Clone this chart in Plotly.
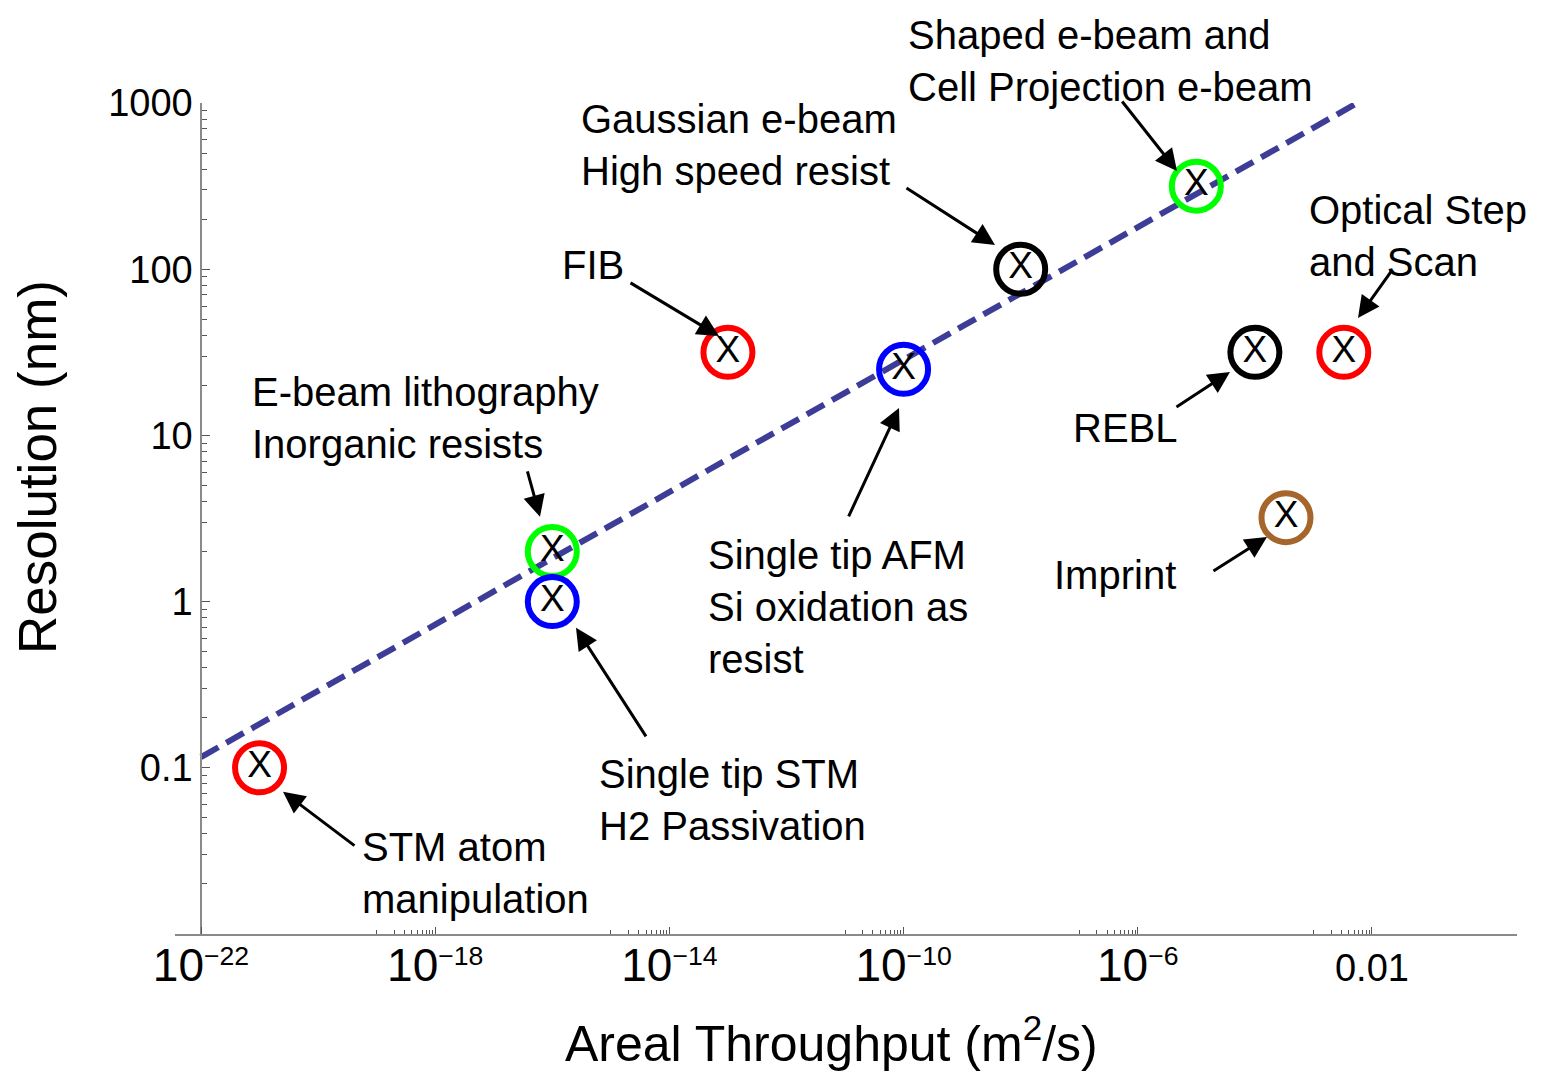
import plotly.graph_objects as go

# ---- data ----
tech_names = ["STM atom manipulation", "E-beam lithography Inorganic resists",
              "Single tip STM H2 Passivation", "FIB", "Single tip AFM",
              "Gaussian e-beam", "Shaped e-beam", "REBL", "Optical Step and Scan", "Imprint"]
throughput = [1e-21, 1e-16, 1e-16, 1e-13, 1e-10, 1e-8, 1e-5, 1e-4, 3.3e-3, 3.4e-4]
resolution = [0.1, 2.0, 1.0, 31.6, 25.0, 100.0, 316.0, 31.6, 31.6, 3.2]
marker_colors = ["#ff0000", "#00ff00", "#0000ff", "#ff0000", "#0000ff",
                 "#000000", "#00ff00", "#000000", "#ff0000", "#a5652b"]

trend_x = [1e-22, 5.6e-3]
trend_y = [0.116, 1000.0]

x_tick_vals = [1e-22, 1e-18, 1e-14, 1e-10, 1e-6, 1e-2]
x_tick_text = ["<span style='font-size:46px'>10</span><sup>\u221222</sup>",
               "<span style='font-size:46px'>10</span><sup>\u221218</sup>",
               "<span style='font-size:46px'>10</span><sup>\u221214</sup>",
               "<span style='font-size:46px'>10</span><sup>\u221210</sup>",
               "<span style='font-size:46px'>10</span><sup>\u22126</sup>",
               "0.01"]
x_minor_decades = [-19, -15, -11, -7, -3]
y_tick_vals = [0.1, 1, 10, 100, 1000]
y_tick_text = ["0.1", "1", "10", "100", "1000"]
y_minor_decades = [-2, -1, 0, 1, 2]

# label text: (text, log10 x of left edge, log10 y of centre)
labels = [
    ("Gaussian e-beam<br>High speed resist", -15.544, 2.747),
    ("FIB", -15.868, 2.026),
    ("Optical Step<br>and Scan", -3.110, 2.200),
    ("E-beam lithography<br>Inorganic resists", -21.163, 1.105),
    ("REBL", -7.141, 1.045),
    ("Single tip AFM<br>Si oxidation as<br>resist", -13.375, -0.032),
    ("Imprint", -7.465, 0.161),
    ("Single tip STM<br>H2 Passivation", -15.236, -1.192),
    ("STM atom<br>manipulation", -19.284, -1.632),
]
# label above the plotting area: (text, log10 x of left edge, paper y of centre)
top_label = ("Shaped e-beam and<br>Cell Projection e-beam", -9.942, 1.05)

# arrows: (tail log x, tail log y, head log x, head log y)
arrows = [
    (-6.287, 3.018, -5.330, 2.591),
    (-9.976, 2.495, -8.439, 2.146),
    (-14.690, 1.923, -13.153, 1.598),
    (-1.641, 2.002, -2.239, 1.707),
    (-5.365, 1.165, -4.425, 1.382),
    (-4.733, 0.179, -3.793, 0.389),
    (-16.432, 0.792, -16.210, 0.510),
    (-14.383, -0.820, -15.595, -0.158),
    (-10.950, 0.504, -10.078, 1.165),
    (-19.353, -1.475, -20.599, -1.144),
]

FONT = "Liberation Sans, Arial, sans-serif"
LABEL_SIZE = 40

fig = go.Figure()
fig.add_trace(go.Scatter(
    x=trend_x, y=trend_y, mode="lines",
    line=dict(color="#3d3d98", width=6, dash="20px,9px"),
    hoverinfo="skip", showlegend=False))
fig.add_trace(go.Scatter(
    x=throughput, y=resolution, mode="markers+text",
    text=["X"] * len(throughput), textposition="middle center",
    textfont=dict(family=FONT, size=37, color="black"),
    marker=dict(symbol="circle-open", size=49, color=marker_colors,
                line=dict(width=6, color=marker_colors)),
    hovertext=tech_names, showlegend=False, cliponaxis=False))

annotations = []
for txt, lx, ly in labels:
    annotations.append(dict(text=txt, x=lx, y=ly, xref="x", yref="y",
                            xanchor="left", yanchor="middle", align="left",
                            showarrow=False,
                            font=dict(family=FONT, size=LABEL_SIZE, color="black")))
annotations.append(dict(text=top_label[0], x=top_label[1], y=top_label[2],
                        xref="x", yref="paper", xanchor="left", yanchor="middle",
                        align="left", showarrow=False, borderpad=0,
                        font=dict(family=FONT, size=LABEL_SIZE, color="black")))
for tx, ty, hx, hy in arrows:
    annotations.append(dict(text="", x=hx, y=hy, ax=tx, ay=ty,
                            xref="x", yref="y", axref="x", ayref="y",
                            showarrow=True, arrowhead=2, arrowsize=1.45,
                            arrowwidth=3, arrowcolor="black", standoff=0,
                            startstandoff=0))
annotations.append(dict(text="Areal Throughput (m<sup>2</sup>/s)", x=0.489, y=-0.128,
                        xref="paper", yref="paper", xanchor="center", yanchor="middle",
                        showarrow=False, borderpad=0,
                        font=dict(family=FONT, size=50, color="black")))
annotations.append(dict(text="Resolution (nm)", x=-0.102, y=0.562, textangle=-90,
                        xref="paper", yref="paper", xanchor="center", yanchor="middle",
                        showarrow=False, font=dict(family=FONT, size=53, color="black")))

x_minor = [k * 10.0 ** d for d in x_minor_decades for k in range(1, 10)]
y_minor = [k * 10.0 ** d for d in y_minor_decades for k in range(2, 10)]

fig.update_layout(
    width=1526, height=1069,
    margin=dict(l=167, r=17, t=95, b=143),
    paper_bgcolor="white", plot_bgcolor="white",
    annotations=annotations,
    xaxis=dict(type="log", range=[-22.444, 0.477], showgrid=False, zeroline=False,
               showline=True, linecolor="#8a8a8a", linewidth=1.5,
               tickmode="array", tickvals=x_tick_vals, ticktext=x_tick_text,
               ticks="inside", ticklen=7, tickwidth=1.2, tickcolor="#555",
               tickfont=dict(family=FONT, size=38, color="black"),
               minor=dict(tickmode="array", tickvals=x_minor, ticks="inside",
                          ticklen=4, tickwidth=1.2, tickcolor="#555", showgrid=False)),
    yaxis=dict(type="log", range=[-2, 3], showgrid=False, zeroline=False,
               anchor="free", position=0.0194,
               showline=True, linecolor="#8a8a8a", linewidth=1.5,
               tickmode="array", tickvals=y_tick_vals, ticktext=y_tick_text,
               ticks="inside", ticklen=8, tickwidth=1.2, tickcolor="#555",
               tickfont=dict(family=FONT, size=38, color="black"),
               minor=dict(tickmode="array", tickvals=y_minor, ticks="inside",
                          ticklen=5, tickwidth=1.2, tickcolor="#555", showgrid=False)),
)

fig.write_html("out.html")
